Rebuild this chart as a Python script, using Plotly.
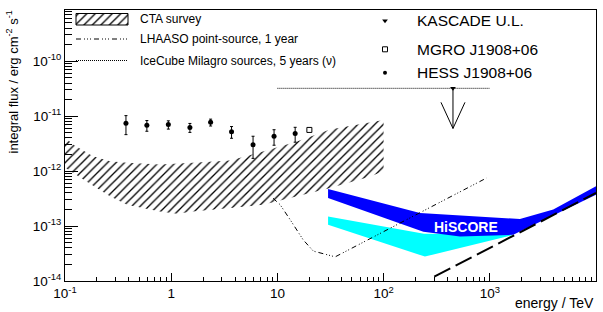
import numpy as np
import plotly.graph_objects as go

# ---------------- data ----------------
hess_energy = [0.375, 0.59, 0.94, 1.5, 2.35, 3.7, 5.9, 9.3, 14.7]
hess_flux = [7.4e-12, 6.8e-12, 7.0e-12, 6.2e-12, 7.7e-12, 5.2e-12, 3.0e-12, 4.3e-12, 4.8e-12]
hess_err = [2.8e-12, 1.5e-12, 1.2e-12, 1.15e-12, 1.1e-12, 1.25e-12, 1.3e-12, 1.35e-12, 1.45e-12]

mgro_energy = [20.0]
mgro_flux = [5.6e-12]

kascade_energy = [450.0]
kascade_flux = [3.2e-11]

icecube_energy = [10.0, 1000.0]
icecube_flux = [3.2e-11, 3.2e-11]

cta_upper_energy = [0.1, 0.119, 0.1835, 0.265, 0.384, 0.784, 1.6, 3.58, 7.32, 15.3, 31.3, 69.8, 100.0]
cta_upper_flux = [4.09e-12, 3.05e-12, 1.86e-12, 1.51e-12, 1.41e-12, 1.31e-12, 1.41e-12, 1.56e-12,
                  2.27e-12, 3.46e-12, 5.73e-12, 7.59e-12, 8.47e-12]
cta_lower_energy = [0.1, 0.154, 0.265, 0.384, 0.784, 1.134, 1.6, 3.58, 7.32, 15.3, 31.3, 69.8, 100.0]
cta_lower_flux = [1.16e-12, 6.7e-13, 3.47e-13, 2.44e-13, 1.84e-13, 1.67e-13, 1.84e-13, 2.13e-13,
                  2.44e-13, 3.47e-13, 4.93e-13, 7.6e-13, 9.9e-13]

lhaaso_energy = [9.1, 10.6, 13.2, 17.5, 21.8, 35.0, 935.0]
lhaaso_flux = [3.2e-13, 2.45e-13, 1.3e-13, 5.6e-14, 3.5e-14, 2.75e-14, 7.5e-13]

hiscore_upper_energy = [30.0, 220.0, 1923.0, 3960.0, 10000.0]
hiscore_upper_flux = [4.73e-13, 1.73e-13, 1.34e-13, 2.0e-13, 5.27e-13]
hiscore_lower_energy = [30.0, 237.0, 524.0, 1663.0, 10000.0]
hiscore_lower_flux = [3.24e-13, 7.9e-14, 6.44e-14, 6.92e-14, 3.72e-13]

hiscore2_upper_energy = [30.0, 240.0, 1663.0]
hiscore2_upper_flux = [1.49e-13, 7.2e-14, 6.9e-14]
hiscore2_lower_energy = [30.0, 245.0, 1663.0]
hiscore2_lower_flux = [1.05e-13, 2.78e-14, 6.9e-14]

limit_energy = [300.0, 10000.0]
limit_flux = [1.2e-14, 4.0e-13]

x_tickvals = [0.1, 1, 10, 100, 1000, 10000]
x_ticktext = ["10<sup>-1</sup>", "1", "10", "10<sup>2</sup>", "10<sup>3</sup>", "10<sup>4</sup>"]
y_tickvals = [1e-14, 1e-13, 1e-12, 1e-11, 1e-10]
y_ticktext = ["10<sup>-14</sup>", "10<sup>-13</sup>", "10<sup>-12</sup>", "10<sup>-11</sup>", "10<sup>-10</sup>"]

FONT = "Liberation Sans, Arial, Helvetica, sans-serif"
HATCH = dict(shape="/", fgcolor="black", fgopacity=1, size=6, solidity=0.22)


def band(up_e, up_f, lo_e, lo_f):
    xs = list(up_e) + list(reversed(lo_e)) + [up_e[0]]
    ys = list(up_f) + list(reversed(lo_f)) + [up_f[0]]
    return xs, ys


fig = go.Figure()

# CTA survey (hatched band)
cx, cy = band(cta_upper_energy, cta_upper_flux, cta_lower_energy, cta_lower_flux)
fig.add_trace(go.Scatter(x=cx, y=cy, mode="lines", fill="toself", line=dict(width=0),
                         fillcolor="rgba(0,0,0,0)", fillpattern=HATCH,
                         hoverinfo="skip", showlegend=False))

# HiSCORE cyan band
hx, hy = band(hiscore2_upper_energy, hiscore2_upper_flux, hiscore2_lower_energy, hiscore2_lower_flux)
fig.add_trace(go.Scatter(x=hx, y=hy, mode="lines", fill="toself", line=dict(width=0),
                         fillcolor="#00ffff", showlegend=False))

# HiSCORE blue band
bx, by = band(hiscore_upper_energy, hiscore_upper_flux, hiscore_lower_energy, hiscore_lower_flux)
fig.add_trace(go.Scatter(x=bx, y=by, mode="lines", fill="toself", line=dict(width=0),
                         fillcolor="#0000ff", showlegend=False))

LHAASO_DASH = "5px,3px,1px,2px,1px,2px,1px,3px"
fig.add_trace(go.Scatter(x=lhaaso_energy, y=lhaaso_flux, mode="lines",
                         line=dict(color="black", width=1, dash=LHAASO_DASH), showlegend=False))

fig.add_trace(go.Scatter(x=limit_energy, y=limit_flux, mode="lines",
                         line=dict(color="black", width=2, dash="18px,6px"), showlegend=False))

fig.add_trace(go.Scatter(x=icecube_energy, y=icecube_flux, mode="lines",
                         line=dict(color="black", width=1, dash="1px,1px"), showlegend=False))

fig.add_trace(go.Scatter(x=hess_energy, y=hess_flux, mode="markers",
                         marker=dict(symbol="circle", size=5, color="black"),
                         error_y=dict(type="data", array=hess_err, color="black", thickness=1, width=1.5),
                         showlegend=False))

fig.add_trace(go.Scatter(x=mgro_energy, y=mgro_flux, mode="markers",
                         marker=dict(symbol="square-open", size=5, color="black", line=dict(width=1)),
                         showlegend=False))

fig.add_trace(go.Scatter(x=kascade_energy, y=kascade_flux, mode="markers",
                         marker=dict(symbol="triangle-down", size=5, color="black"),
                         showlegend=False))

# upper-limit arrow built from the KASCADE value
ARROW_DEC = 0.73
HEAD_DX = 0.113
HEAD_DY = 0.475
ax_, ay_ = [], []
for e, f in zip(kascade_energy, kascade_flux):
    tip = f * 10 ** (-ARROW_DEC)
    ax_ += [e, e, None, e * 10 ** (-HEAD_DX), e, e * 10 ** HEAD_DX, None]
    ay_ += [f, tip, None, tip * 10 ** HEAD_DY, tip, tip * 10 ** HEAD_DY, None]
fig.add_trace(go.Scatter(x=ax_, y=ay_, mode="lines", line=dict(color="black", width=1),
                         showlegend=False))

# ---------------- hand-drawn legends (overlay axes in plot-area fractions) ----------------
def fx(px):
    return (px - 65) / 531.0


def fy(py):
    return (281 - py) / 271.0


x0, x1 = fx(76), fx(128)
y0, y1 = fy(13.5), fy(25)
fig.add_trace(go.Scatter(x=[x0, x1, x1, x0, x0], y=[y0, y0, y1, y1, y0], mode="lines",
                         fill="toself", fillcolor="rgba(0,0,0,0)", fillpattern=HATCH,
                         line=dict(color="black", width=1), xaxis="x2", yaxis="y2",
                         showlegend=False, hoverinfo="skip"))
fig.add_trace(go.Scatter(x=[x0, x1], y=[fy(39), fy(39)], mode="lines",
                         line=dict(color="black", width=1, dash=LHAASO_DASH),
                         xaxis="x2", yaxis="y2", showlegend=False))
fig.add_trace(go.Scatter(x=[x0, x1], y=[fy(60.5), fy(60.5)], mode="lines",
                         line=dict(color="black", width=1, dash="1px,1px"),
                         xaxis="x2", yaxis="y2", showlegend=False))
fig.add_trace(go.Scatter(x=[fx(385)], y=[fy(20.7)], mode="markers",
                         marker=dict(symbol="triangle-down", size=5, color="black"),
                         xaxis="x2", yaxis="y2", showlegend=False))
fig.add_trace(go.Scatter(x=[fx(385)], y=[fy(49.3)], mode="markers",
                         marker=dict(symbol="square-open", size=5, color="black", line=dict(width=1)),
                         xaxis="x2", yaxis="y2", showlegend=False))
fig.add_trace(go.Scatter(x=[fx(385)], y=[fy(72.7)], mode="markers",
                         marker=dict(symbol="circle", size=4, color="black"),
                         xaxis="x2", yaxis="y2", showlegend=False))

annotations = []
for txt, py in [("CTA survey", 19), ("LHAASO point-source, 1 year", 39),
                ("IceCube Milagro sources, 5 years (ν)", 60.5)]:
    annotations.append(dict(text=txt, x=fx(138), y=fy(py), xref="paper", yref="paper",
                            xanchor="left", yanchor="middle", showarrow=False,
                            font=dict(family=FONT, size=12, color="black")))
for txt, py in [("KASCADE U.L.", 20.8), ("MGRO J1908+06", 49), ("HESS J1908+06", 72.5)]:
    annotations.append(dict(text=txt, x=fx(415), y=fy(py), xref="paper", yref="paper",
                            xanchor="left", yanchor="middle", showarrow=False,
                            font=dict(family=FONT, size=15.5, color="black")))

annotations.append(dict(text="<b>HiSCORE</b>", x=np.log10(600), y=np.log10(9.7e-14),
                        xref="x", yref="y", showarrow=False,
                        font=dict(family=FONT, size=14, color="white")))
annotations.append(dict(text="energy / TeV", x=1.0, y=fy(303), xref="paper", yref="paper",
                        xanchor="right", yanchor="middle", showarrow=False,
                        font=dict(family=FONT, size=14, color="black")))
annotations.append(dict(text="integral flux / erg cm<sup>-2</sup> s<sup>-1</sup>",
                        x=fx(12), y=fy(9), xref="paper", yref="paper", textangle=-90,
                        xanchor="center", yanchor="top", showarrow=False,
                        font=dict(family=FONT, size=13, color="black")))

fig.update_layout(
    width=603, height=312,
    margin=dict(l=65, r=7, t=10, b=31),
    paper_bgcolor="white", plot_bgcolor="white",
    font=dict(family=FONT, size=13.5, color="black"),
    showlegend=False,
    hovermode=False,
    annotations=annotations,
    xaxis=dict(type="log", range=[-1, 4], showgrid=False, zeroline=False,
               showline=True, linecolor="black", linewidth=1, mirror=True,
               ticks="inside", ticklen=8, tickcolor="black",
               tickvals=x_tickvals, ticktext=x_ticktext,
               minor=dict(ticks="inside", ticklen=4, tickcolor="black", dtick="D1", showgrid=False)),
    yaxis=dict(type="log", range=[-14, -9.07], showgrid=False, zeroline=False,
               showline=True, linecolor="black", linewidth=1, mirror=True,
               ticks="inside", ticklen=13, tickcolor="black",
               tickvals=y_tickvals, ticktext=y_ticktext,
               minor=dict(ticks="inside", ticklen=7, tickcolor="black", dtick="D1", showgrid=False)),
    xaxis2=dict(overlaying="x", range=[0, 1], visible=False, anchor="y2"),
    yaxis2=dict(overlaying="y", range=[0, 1], visible=False, anchor="x2"),
)

fig.write_html("out.html", config={"displayModeBar": False},
               post_script="document.body.style.margin='0px';")
